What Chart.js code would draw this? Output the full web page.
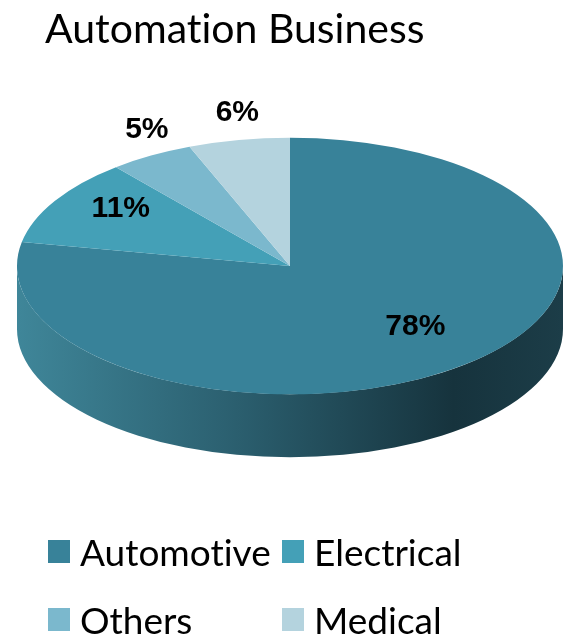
<!DOCTYPE html>
<html>
<head>
<meta charset="utf-8">
<script src="https://cdn.jsdelivr.net/npm/chart.js@4.4.0/dist/chart.umd.min.js"></script>
<style>
body { margin: 0; background: #fff; }
#wrap { position: relative; width: 563px; height: 639px; overflow: hidden; }
#title { position: absolute; left: 45px; top: 3px; font-family: Lato, sans-serif; font-size: 41px; color: #000; white-space: nowrap; font-variant-ligatures: none; }
#pie { position: absolute; left: 0; top: 0; }
#legend { position: absolute; left: 48px; top: 529px; display: grid; grid-template-columns: 234px auto; grid-auto-rows: 68px; font-family: Lato, sans-serif; font-size: 37px; color: #000; font-variant-ligatures: none; }
#legend div { display: flex; align-items: center; white-space: nowrap; height: 44px; }
#legend span { display: inline-block; width: 22px; height: 23px; margin-right: 10px; }
</style>
</head>
<body>
<div id="wrap">
  <canvas id="pie" width="563" height="639"></canvas>
  <div id="title">Automation Business</div>
  <div id="legend"></div>
</div>
<script>
// chart data
var sectors = ["Automotive", "Electrical", "Others", "Medical"];
var shares = [78, 11, 5, 6];
var sliceColors = ["#388299", "#44a0b7", "#7bb8cd", "#b4d3de"];

// look of the 3d disc
var discY = 266;      // centre of the top face on screen
var labelY = 256;     // labels sit a bit higher (perspective)
var squash = 0.47;    // height / width of the top face
var depth = 63;       // thickness of the side in px

var legend = document.getElementById("legend");
for (var i = 0; i < sectors.length; i++) {
    legend.innerHTML += "<div><span style='background:" + sliceColors[i] + "'></span>" + sectors[i] + "</div>";
}

// squash the pie into an ellipse and paint a side under it
var disc3d = {
    id: "disc3d",
    beforeDatasetsDraw: function (chart) {
        var ctx = chart.ctx;
        var arcs = chart.getDatasetMeta(0).data;
        var cx = arcs[0].x, cy = arcs[0].y, r = arcs[0].outerRadius;
        ctx.save();
        ctx.translate(0, discY);
        ctx.scale(1, squash);
        ctx.translate(0, -cy);
        var d = depth / squash;
        var grad = ctx.createLinearGradient(cx - r, 0, cx + r, 0);
        grad.addColorStop(0, "#3f8699");
        grad.addColorStop(0.4, "#2b5f6f");
        grad.addColorStop(0.8, "#16333d");
        grad.addColorStop(1, "#1c3d48");
        arcs.forEach(function (a) {
            var s = Math.max(a.startAngle, 0);
            var e = Math.min(a.endAngle, Math.PI);
            if (e <= s) return;
            ctx.beginPath();
            ctx.arc(cx, cy, r, s, e);
            ctx.arc(cx, cy + d, r, e, s, true);
            ctx.closePath();
            ctx.fillStyle = grad;
            ctx.fill();
        });
    },
    afterDatasetsDraw: function (chart) {
        var ctx = chart.ctx;
        ctx.restore();
        var arcs = chart.getDatasetMeta(0).data;
        ctx.save();
        ctx.font = "bold 30px 'Liberation Sans', Arial, sans-serif";
        ctx.fillStyle = "#000";
        ctx.textAlign = "center";
        ctx.textBaseline = "middle";
        arcs.forEach(function (a, i) {
            var mid = (a.startAngle + a.endAngle) / 2;
            var small = shares[i] < 8;
            var fx = small ? 1.03 : 0.72;
            var fy = small ? 1.14 : 0.72;
            var x = a.x + Math.cos(mid) * a.outerRadius * fx;
            var y = labelY + Math.sin(mid) * a.outerRadius * fy * squash;
            ctx.fillText(shares[i] + "%", x, y);
        });
        ctx.restore();
    }
};

new Chart(document.getElementById("pie"), {
    type: "pie",
    data: {
        labels: sectors,
        datasets: [{
            data: shares,
            backgroundColor: sliceColors,
            borderWidth: 0
        }]
    },
    options: {
        responsive: false,
        animation: false,
        layout: { padding: { left: 17, right: 0, top: 0, bottom: 0 } },
        plugins: {
            legend: { display: false },
            tooltip: { enabled: false }
        }
    },
    plugins: [disc3d]
});
</script>
</body>
</html>
